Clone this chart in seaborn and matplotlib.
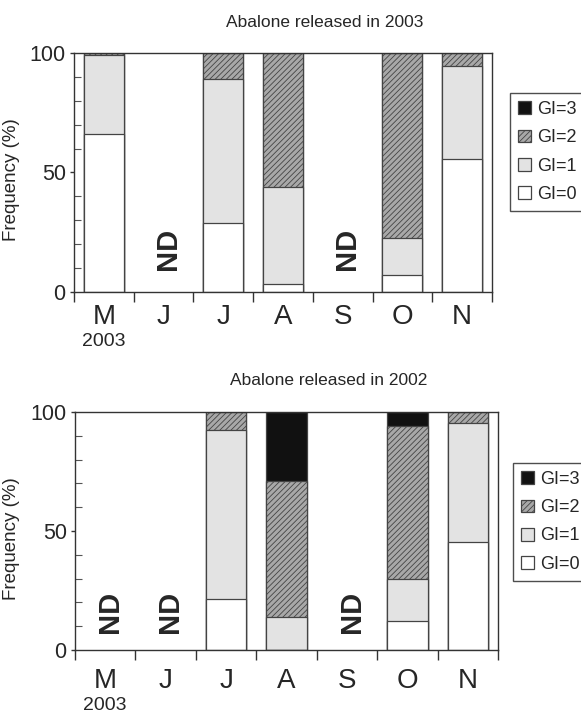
import numpy as np
import pandas as pd
import matplotlib
matplotlib.use("Agg")
import matplotlib.pyplot as plt
import seaborn as sns
from matplotlib.patches import Patch

months = ["May", "Jun", "Jul", "Aug", "Sep", "Oct", "Nov"]
month_labels = ["M", "J", "J", "A", "S", "O", "N"]
gi_labels = ["GI=3", "GI=2", "GI=1", "GI=0"]

# released in 2003 (NaN = not determined)
gi0_2003 = [66, np.nan, 29, 3.5, np.nan, 7, 55.5]
gi1_2003 = [33, np.nan, 60, 40.5, np.nan, 15.5, 39]
gi2_2003 = [1, np.nan, 11, 56, np.nan, 77.5, 5.5]
gi3_2003 = [0, np.nan, 0, 0, np.nan, 0, 0]

# released in 2002
gi0_2002 = [np.nan, np.nan, 21.5, 0, np.nan, 12, 45.5]
gi1_2002 = [np.nan, np.nan, 71, 14, np.nan, 18, 50]
gi2_2002 = [np.nan, np.nan, 7.5, 57, np.nan, 64, 4.5]
gi3_2002 = [np.nan, np.nan, 0, 29, np.nan, 6, 0]

sns.set_style("white")
plt.rcParams["font.family"] = ["Liberation Sans", "DejaVu Sans"]
plt.rcParams["hatch.linewidth"] = 0.6

face = {"GI=3": "#111111", "GI=2": "#a8a8a8", "GI=1": "#e3e3e3", "GI=0": "#ffffff"}
hatch = {"GI=3": "", "GI=2": "//////", "GI=1": "", "GI=0": ""}
edge = "#444444"


def panel(fig, rect, title, title_xy, gi0, gi1, gi2, gi3, nd_y,
          legend_xy, xpad, year_y):
    ax = fig.add_axes(rect)
    df = pd.DataFrame({"month": months, "GI=0": gi0, "GI=1": gi1,
                       "GI=2": gi2, "GI=3": gi3})
    nd = df["GI=0"].isna()
    d = df[~nd].copy()
    # cumulative tops, drawn from the top layer down
    d["c0"] = d["GI=0"]
    d["c1"] = d["c0"] + d["GI=1"]
    d["c2"] = d["c1"] + d["GI=2"]
    d["c3"] = d["c2"] + d["GI=3"]
    for col, g in zip(["c3", "c2", "c1", "c0"], gi_labels):
        sns.barplot(data=d, x="month", y=col, order=months, ax=ax,
                    color=face[g], width=0.67, edgecolor=edge,
                    linewidth=0.9, hatch=hatch[g], saturation=1,
                    errorbar=None)
    for i, m in enumerate(months):
        if nd[df["month"] == m].iloc[0]:
            ax.text(i + 0.08, nd_y, "ND", rotation=90, ha="center",
                    va="center", fontsize=21, fontweight="bold")

    ax.set_xlim(-0.5, 6.5)
    ax.set_ylim(0, 100)
    ax.set_xlabel("")
    ax.set_ylabel("Frequency (%)", fontsize=13.5)
    ax.yaxis.set_label_coords(-0.13, 0.47)
    ax.set_xticks(np.arange(-0.5, 7, 1))
    ax.set_xticklabels([])
    ax.set_xticks(np.arange(7), minor=True)
    ax.set_xticklabels(month_labels, minor=True, fontsize=20)
    ax.tick_params(axis="x", which="major", direction="out", length=7,
                   width=1, color="#333333", bottom=True)
    ax.tick_params(axis="x", which="minor", length=0, pad=xpad)
    ax.set_yticks([0, 50, 100])
    ax.set_yticklabels(["0", "50", "100"], fontsize=15.5)
    ax.set_yticks(np.arange(10, 100, 10), minor=True)
    ax.tick_params(axis="y", which="major", direction="out", length=3,
                   width=1, color="#333333", left=True, pad=3)
    ax.tick_params(axis="y", which="minor", direction="in", length=5,
                   width=0.8, color="#555555", left=True)
    for s in ax.spines.values():
        s.set_color("#333333")
        s.set_linewidth(1)
    ax.text(0, year_y, "2003", transform=ax.get_xaxis_transform(),
            ha="center", va="center", fontsize=14)
    fig.text(title_xy[0], title_xy[1], title, ha="center", va="center",
             fontsize=12.5)

    handles = [Patch(facecolor=face[g], edgecolor=edge, hatch=hatch[g],
                     linewidth=0.9) for g in gi_labels]
    leg = fig.legend(handles, gi_labels, loc="upper left",
                     bbox_to_anchor=legend_xy, frameon=True, fancybox=False,
                     edgecolor="#222222", fontsize=13, handlelength=0.72,
                     handleheight=0.72, handletextpad=0.35, labelspacing=0.62,
                     borderpad=0.45, borderaxespad=0)
    leg.get_frame().set_linewidth(1)
    return ax


fig = plt.figure(figsize=(5.81, 7.16), dpi=100)
panel(fig, [0.1274, 0.5922, 0.7194, 0.3338], "Abalone released in 2003",
      (0.5594, 0.9679), gi0_2003, gi1_2003, gi2_2003, gi3_2003, 18,
      (0.8778, 0.8701), 9, -0.209)
panel(fig, [0.1291, 0.0922, 0.7281, 0.3324], "Abalone released in 2002",
      (0.5663, 0.4679), gi0_2002, gi1_2002, gi2_2002, gi3_2002, 16,
      (0.8830, 0.3534), 13, -0.235)
fig.savefig("out.png", dpi=100)
